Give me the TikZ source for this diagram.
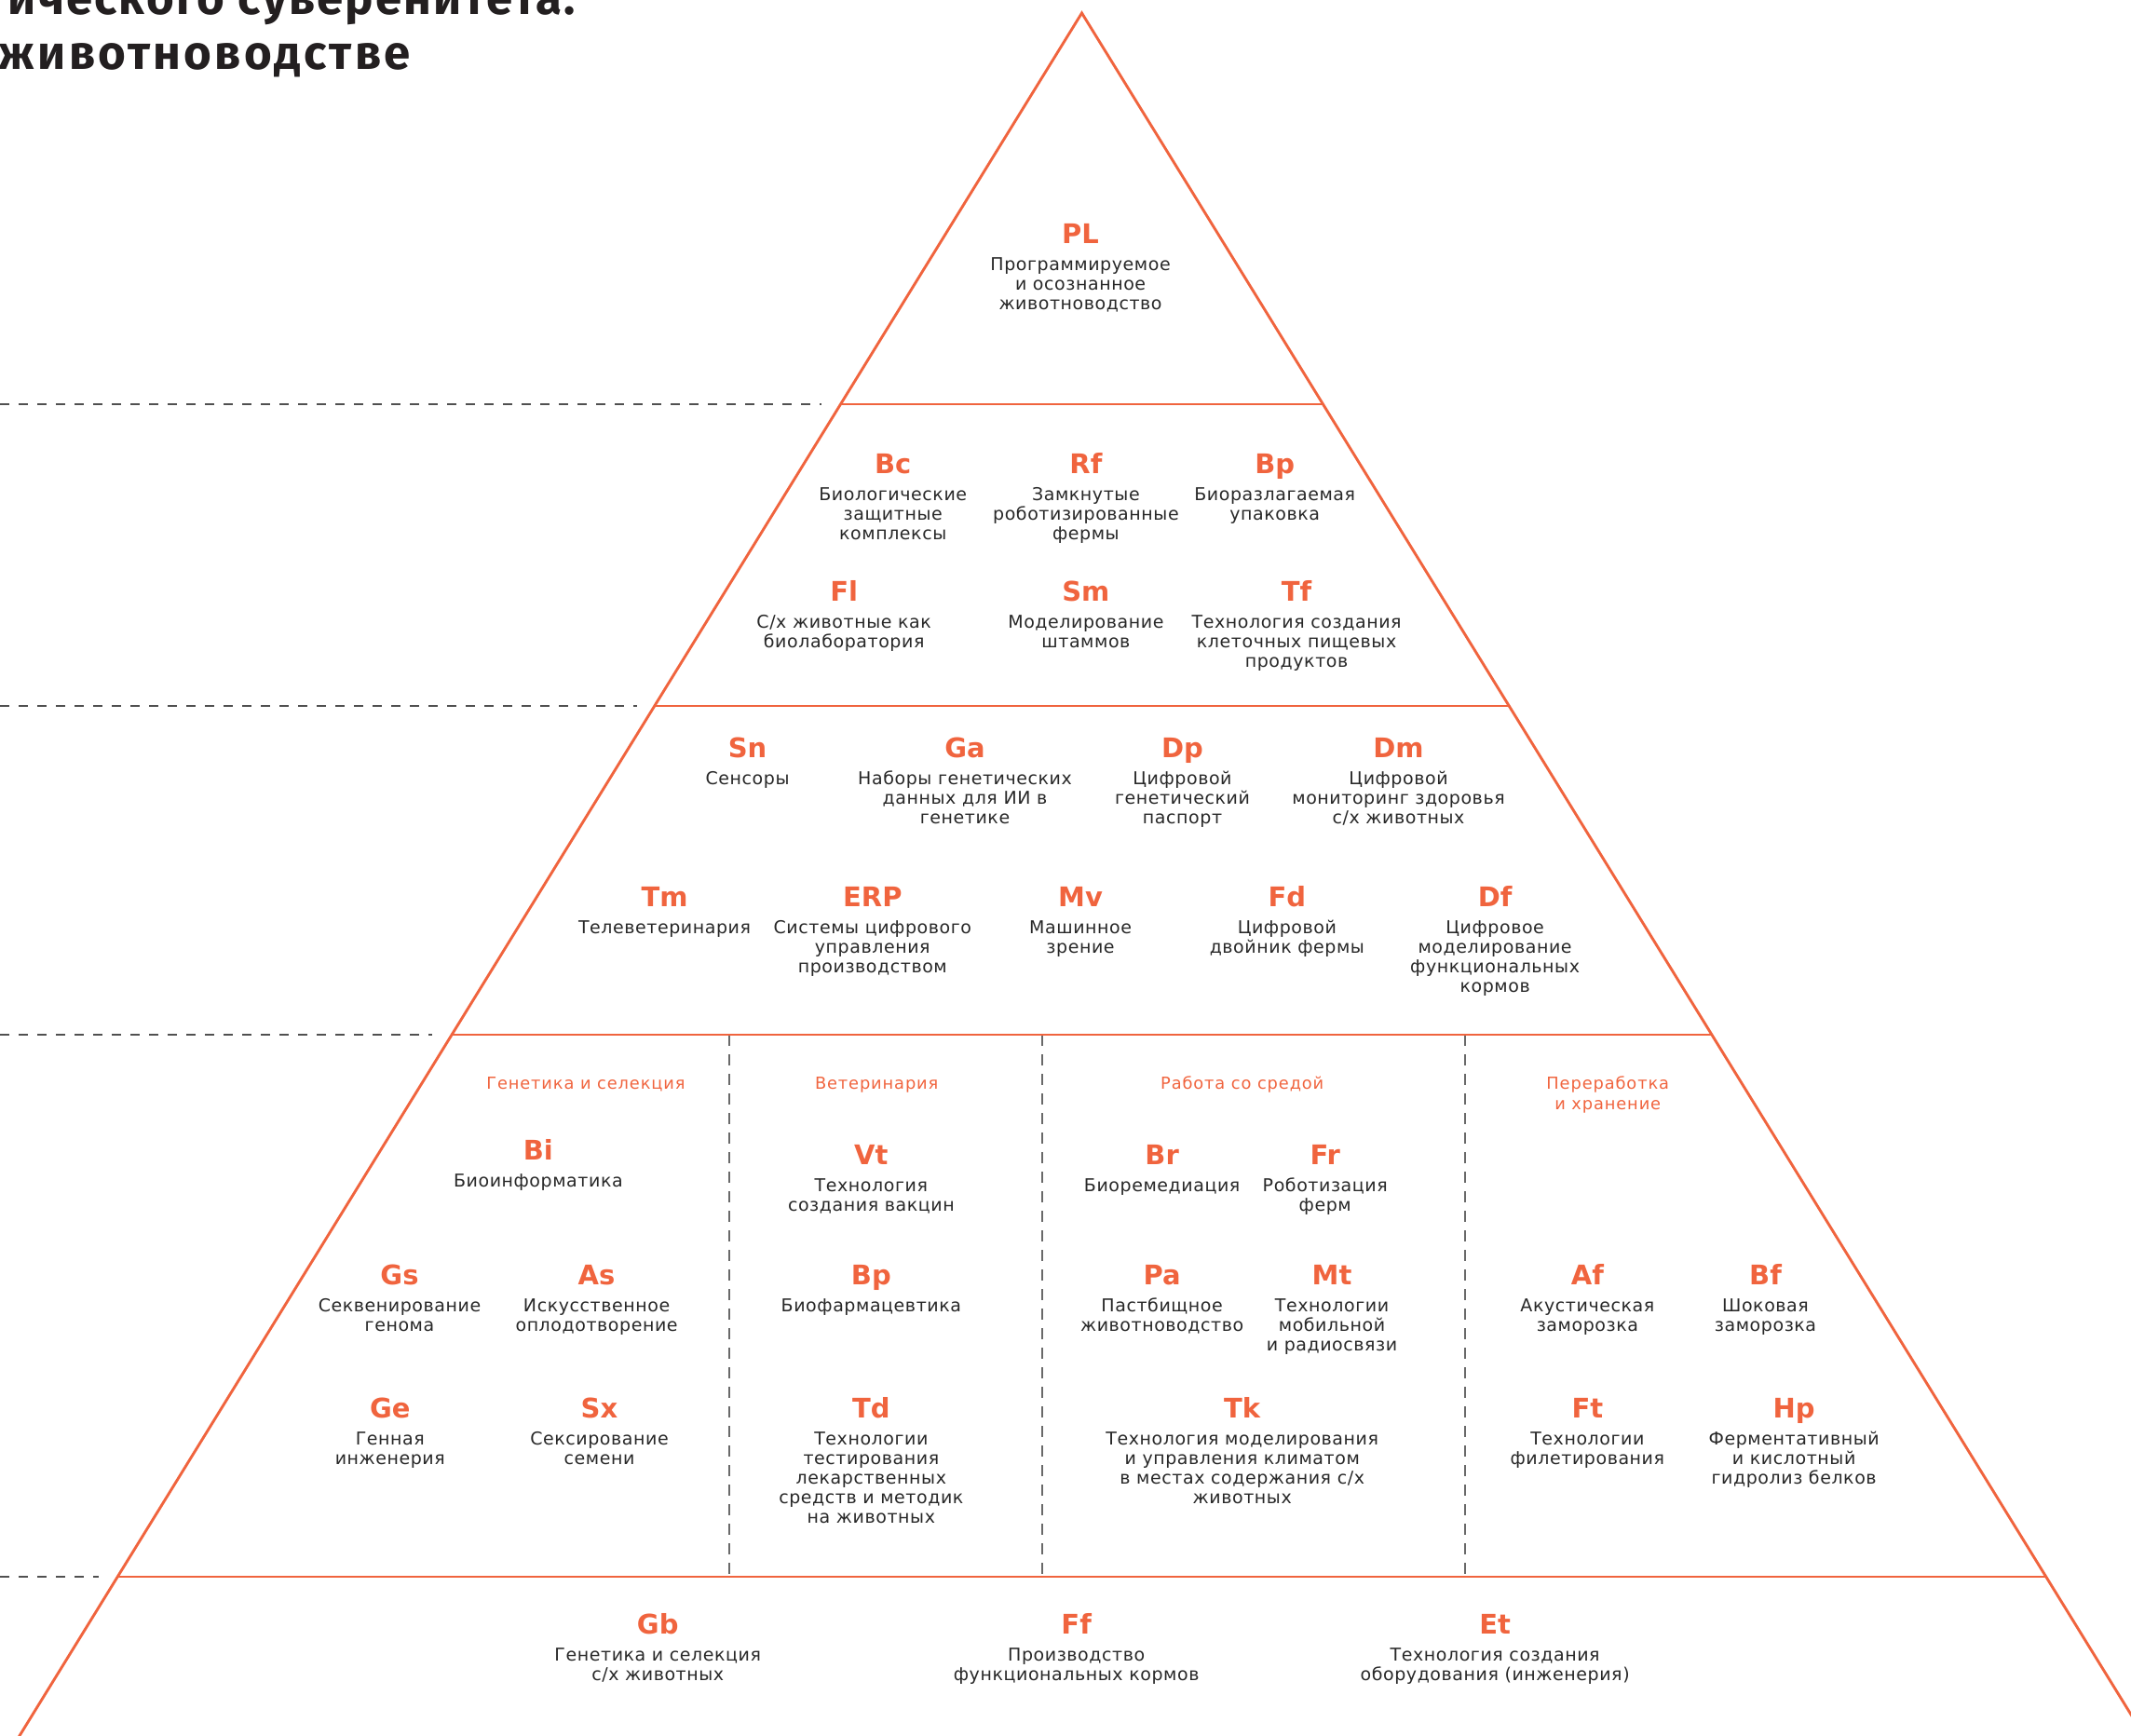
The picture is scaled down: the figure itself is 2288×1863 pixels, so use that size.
\documentclass[tikz,border=0pt]{standalone}
\usepackage{fontspec}
\setmainfont{DejaVu Sans}
\newfontfamily\bodyfont{DejaVu Sans}[LetterSpace=3]
\newfontfamily\codefont{DejaVu Sans}
\newfontfamily\catfont{DejaVu Sans}[LetterSpace=5]
\newfontfamily\titlefont{Fira Sans}[LetterSpace=4]
\newfontfamily\titlefontb{Fira Sans}[LetterSpace=6.5]
\definecolor{orng}{RGB}{240,100,62}
\definecolor{txt}{RGB}{40,40,40}
\definecolor{ttl}{RGB}{35,31,32}
\definecolor{dashgray}{RGB}{80,80,80}
\definecolor{vgray}{RGB}{105,105,105}
\newcommand{\ml}[1]{\begin{tabular}[t]{@{}c@{}}#1\end{tabular}}
\newcommand{\techitem}[5]{%
  \node[codestyle] (#1) at (#2,#3+7.2) {#4};
  \node[descstyle] (#1-d) at (#2,#3+27.1) {\ml{#5}};%
}
\tikzset{
  tri/.style={draw=orng, line width=2.9pt, line join=miter},
  dashline/.style={draw=dashgray, line width=1.8pt, dash pattern=on 10pt off 10pt},
  vdash/.style={draw=vgray, line width=1.6pt, dash pattern=on 12pt off 9pt},
  codestyle/.style={anchor=base, inner sep=0pt, text=orng, font=\codefont\bfseries\fontsize{29}{30}\selectfont},
  descstyle/.style={anchor=base, inner sep=0pt, text=txt, font=\bodyfont\fontsize{19}{21}\selectfont},
  catstyle/.style={anchor=base, inner sep=0pt, text=orng, font=\catfont\fontsize{17.8}{22}\selectfont},
  titlestyle/.style={anchor=base east, inner sep=0pt, text=ttl, font=\titlefont\bfseries\fontsize{51}{58}\selectfont},
  titlestyleb/.style={anchor=base east, inner sep=0pt, text=ttl, font=\titlefontb\bfseries\fontsize{51}{58}\selectfont},
}
\begin{document}
\begin{tikzpicture}[x=1pt,y=-1pt]
\path[use as bounding box] (0,0) rectangle (2288,1863);
\clip (0,0) rectangle (2288,1863);
% title (cropped)
\node[titlestyle] (title1) at (618,16) {ического суверенитета.};
\node[titlestyleb] (title2) at (441,74) {животноводстве};
% dashed level lines
\coordinate (d1) at (0,434);  \coordinate (e1) at (882,434);
\coordinate (d2) at (0,758);  \coordinate (e2) at (684,758);
\coordinate (d3) at (0,1111); \coordinate (e3) at (464,1111);
\coordinate (d4) at (0,1693); \coordinate (e4) at (106,1693);
\draw[dashline] (d1) -- (e1);
\draw[dashline] (d2) -- (e2);
\draw[dashline] (d3) -- (e3);
\draw[dashline] (d4) -- (e4);
% vertical separators
\coordinate (v1t) at (783,1111);  \coordinate (v1b) at (783,1693);
\coordinate (v2t) at (1119,1111); \coordinate (v2b) at (1119,1693);
\coordinate (v3t) at (1573,1111); \coordinate (v3b) at (1573,1693);
\draw[vdash] (v1t) -- (v1b);
\draw[vdash] (v2t) -- (v2b);
\draw[vdash] (v3t) -- (v3b);
% pyramid
\coordinate (apex) at (1161.5,14);
\coordinate (bl) at (-1.4,1900);
\coordinate (br) at (2324.4,1900);
\coordinate (l1) at (902.5,434);  \coordinate (r1) at (1420.5,434);
\coordinate (l2) at (702.7,758);  \coordinate (r2) at (1620.3,758);
\coordinate (l3) at (485.1,1111); \coordinate (r3) at (1837.9,1111);
\coordinate (l4) at (126.2,1693); \coordinate (r4) at (2196.8,1693);
\draw[tri] (l1) -- (r1);
\draw[tri] (l2) -- (r2);
\draw[tri] (l3) -- (r3);
\draw[tri] (l4) -- (r4);
\draw[tri] (bl) -- (apex) -- (br);
\begin{scope}[x=1.4592pt,y=-1.4592pt]
% level 1
\techitem{PL}{795}{172}{PL}{Программируемое\\и осознанное\\животноводство}
% level 2
\techitem{Bc}{657}{341}{Bc}{Биологические\\защитные\\комплексы}
\techitem{Rf}{799}{341}{Rf}{Замкнутые\\роботизированные\\фермы}
\techitem{Bpa}{938}{341}{Bp}{Биоразлагаемая\\упаковка}
\techitem{Fl}{621}{435}{Fl}{С/х животные как\\биолаборатория}
\techitem{Sm}{799}{435}{Sm}{Моделирование\\штаммов}
\techitem{Tf}{954}{435}{Tf}{Технология создания\\клеточных пищевых\\продуктов}
% level 3
\techitem{Sn}{550}{550}{Sn}{Сенсоры}
\techitem{Ga}{710}{550}{Ga}{Наборы генетических\\данных для ИИ в\\генетике}
\techitem{Dp}{870}{550}{Dp}{Цифровой\\генетический\\паспорт}
\techitem{Dm}{1029}{550}{Dm}{Цифровой\\мониторинг здоровья\\с/х животных}
\techitem{Tm}{489}{660}{Tm}{Телеветеринария}
\techitem{ERP}{642}{660}{ERP}{Системы цифрового\\управления\\производством}
\techitem{Mv}{795}{660}{Mv}{Машинное\\зрение}
\techitem{Fd}{947}{660}{Fd}{Цифровой\\двойник фермы}
\techitem{Df}{1100}{660}{Df}{Цифровое\\моделирование\\функциональных\\кормов}
% level 4 categories
\node[catstyle] (cat1) at (431,801.5) {Генетика и селекция};
\node[catstyle] (cat2) at (645,801.5) {Ветеринария};
\node[catstyle] (cat3) at (914,801.5) {Работа со средой};
\node[catstyle] (cat4) at (1183,801.5) {\ml{Переработка\\и хранение}};
% level 4 items
\techitem{Bi}{396}{846}{Bi}{Биоинформатика}
\techitem{Gs}{294}{938}{Gs}{Секвенирование\\генома}
\techitem{As}{439}{938}{As}{Искусственное\\оплодотворение}
\techitem{Ge}{287}{1036}{Ge}{Генная\\инженерия}
\techitem{Sx}{441}{1036}{Sx}{Сексирование\\семени}
\techitem{Vt}{641}{850}{Vt}{Технология\\создания вакцин}
\techitem{Bpb}{641}{938}{Bp}{Биофармацевтика}
\techitem{Td}{641}{1036}{Td}{Технологии\\тестирования\\лекарственных\\средств и методик\\на животных}
\techitem{Br}{855}{850}{Br}{Биоремедиация}
\techitem{Fr}{975}{850}{Fr}{Роботизация\\ферм}
\techitem{Pa}{855}{938}{Pa}{Пастбищное\\животноводство}
\techitem{Mt}{980}{938}{Mt}{Технологии\\мобильной\\и радиосвязи}
\techitem{Tk}{914}{1036}{Tk}{Технология моделирования\\и управления климатом\\в местах содержания с/х\\животных}
\techitem{Af}{1168}{938}{Af}{Акустическая\\заморозка}
\techitem{Bf}{1299}{938}{Bf}{Шоковая\\заморозка}
\techitem{Ft}{1168}{1036}{Ft}{Технологии\\филетирования}
\techitem{Hp}{1320}{1036}{Hp}{Ферментативный\\и кислотный\\гидролиз белков}
% level 5
\techitem{Gb}{484}{1195}{Gb}{Генетика и селекция\\с/х животных}
\techitem{Ff}{792}{1195}{Ff}{Производство\\функциональных кормов}
\techitem{Et}{1100}{1195}{Et}{Технология создания\\оборудования (инженерия)}
\end{scope}
\end{tikzpicture}
\end{document}
